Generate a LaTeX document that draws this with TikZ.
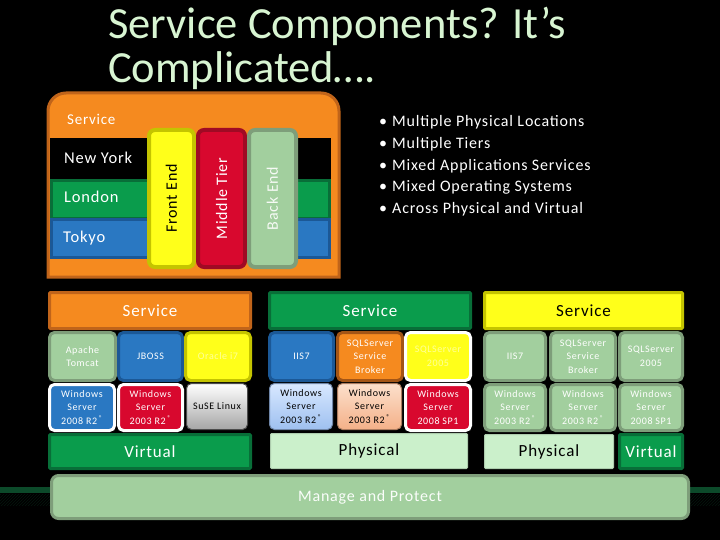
\documentclass[tikz,border=0pt]{standalone}
\usepackage{fontspec}
\setmainfont{Carlito}
\newfontfamily\spfont{Carlito}[LetterSpace=5]
\newfontfamily\smfont{Carlito}[LetterSpace=6]
\usetikzlibrary{patterns}
\definecolor{orF}{HTML}{F58A1F}\definecolor{orD}{HTML}{C0641A}
\definecolor{grF}{HTML}{0A9C4C}\definecolor{grD}{HTML}{086E38}
\definecolor{blF}{HTML}{2A78C2}\definecolor{blD}{HTML}{1B5896}
\definecolor{yeF}{HTML}{FFFF1A}\definecolor{yeD}{HTML}{C4C400}
\definecolor{reF}{HTML}{D8082E}\definecolor{reD}{HTML}{A00A24}
\definecolor{lgF}{HTML}{A2CF9E}\definecolor{lgD}{HTML}{7E9E7A}
\definecolor{pgF}{HTML}{CBF0CB}
\definecolor{lbT}{HTML}{D8E8FF}\definecolor{lbB}{HTML}{9EC0F0}
\definecolor{peT}{HTML}{FCE0CC}\definecolor{peB}{HTML}{F4B088}
\definecolor{titleC}{HTML}{D8F5D2}
\definecolor{paleY}{HTML}{FFFF9A}
\definecolor{bandC}{HTML}{0C4A2A}
\newcommand\bbox[7]{\node[#2,anchor=north west,minimum width={#5-#3},minimum height={#6-#4}] (#1) at (#3,#4) {#7};}
\tikzset{
 base/.style={rounded corners=5pt,line width=3pt,inner sep=0pt,align=center,font=\smfont\fontsize{10}{13.5}\selectfont},
 orb/.style={base,fill=orF,draw=orD,text=white},
 grb/.style={base,fill=grF,draw=grD,text=white},
 blb/.style={base,fill=blF,draw=blD,text=white},
 yeb/.style={base,fill=yeF,draw=yeD,text=paleY},
 lgb/.style={base,fill=lgF,draw=lgD,text=white},
 blw/.style={base,fill=blF,draw=white,text=white},
 rew/.style={base,fill=reF,draw=white,text=white},
 yew/.style={base,fill=yeF,draw=white,text=paleY},
 lbg/.style={base,top color=lbT,bottom color=lbB,draw=lbB!70!black,line width=1pt,text=black},
 peg/.style={base,top color=peT,bottom color=peB,draw=peB!70!black,line width=1pt,text=black},
 gyg/.style={base,top color=white,bottom color=gray!70,draw=black!70,line width=1pt,text=black},
 big/.style={font=\spfont\fontsize{17}{20}\selectfont},
 bar/.style={rounded corners=1pt,line width=3pt,inner sep=0pt,big},
 tier/.style={rounded corners=6pt,line width=4pt,inner sep=0pt},
 strip/.style={line width=3pt,inner sep=0pt},
 lbl/.style={anchor=base west,inner sep=0pt,font=\spfont\fontsize{16.5}{20}\selectfont,text=white},
 bul/.style={anchor=base west,inner sep=0pt,font=\spfont\fontsize{16}{20}\selectfont,text=white},
 ttl/.style={anchor=base west,inner sep=0pt,text=titleC,font=\fontsize{44.5}{44}\selectfont},
}
\begin{document}
\begin{tikzpicture}[x=1pt,y=-1pt]
\fill[black] (0,0) rectangle (720,540);
\useasboundingbox (0,0) rectangle (720,540);
% background band
\fill[bandC] (0,487) rectangle (720,493);
\fill[pattern=north east lines,pattern color=black!70!bandC] (0,494) rectangle (720,505);
% title
\node[ttl] (t1) at (108,39) {Service Components? It’s};
\node[ttl] (t2) at (108,83) {Complicated….};
% top orange service
\draw[orD,fill=orF,line width=3pt] (48,277) -- (48,200) [rounded corners=18pt] -- (48,93) -- (339,93) -- (339,200) [sharp corners] -- (339,277) -- cycle;
\node[lbl,text=white,font=\spfont\fontsize{15}{18}\selectfont] (svc) at (67,125) {Service};
\bbox{ny}{strip,fill=black,draw=black}{50}{138}{328}{178}{}
\bbox{ldn}{strip,fill=grF,draw=grD}{50}{179}{328}{217}{}
\bbox{tky}{strip,fill=blF,draw=blD}{50}{218}{328}{256}{}
\node[lbl] (nyt) at (64,164) {New York};
\node[lbl] (ldt) at (64,203) {London};
\node[lbl] (tkt) at (63,242) {Tokyo};
\bbox{fe}{tier,fill=yeF,draw=yeD}{147}{128}{192}{265}{}
\bbox{mt}{tier,fill=reF,draw=reD}{196}{128}{243}{265}{}
\bbox{be}{tier,fill=lgF,draw=lgD}{247}{128}{294}{265}{}
\node[rotate=90,font=\spfont\fontsize{16}{20}\selectfont,text=black] at (fe) {Front End};
\node[rotate=90,font=\spfont\fontsize{16}{20}\selectfont,text=white] at (mt) {Middle Tier};
\node[rotate=90,font=\spfont\fontsize{16}{20}\selectfont,text=white!90!lgF] at (be) {Back End};
% bullets
\foreach \t [count=\i] in {Multiple Physical Locations,Multiple Tiers,Mixed Applications Services,Mixed Operating Systems,Across Physical and Virtual}{
  \node[bul] (b\i) at (392,{127+21.6*(\i-1)}) {\t};
  \node[bul] (d\i) at (379,{127+21.6*(\i-1)}) {•};
}
% left group
\bbox{s1}{bar,fill=orF,draw=orD,text=white}{48}{291}{249}{327}{Service}
\bbox{a1}{lgb}{48}{331}{114}{379}{Apache\\Tomcat}
\bbox{a2}{blb}{117}{331}{181}{379}{JBOSS}
\bbox{a3}{yeb}{184}{331}{249}{379}{Oracle i7}
\bbox{a4}{blw}{48}{383}{113}{429}{Windows\\Server\\2008 R2\,\textsuperscript{®}}
\bbox{a5}{rew}{117}{383}{181}{429}{Windows\\Server\\2003 R2\,\textsuperscript{®}}
\bbox{a6}{gyg}{186}{383}{247}{429}{SuSE Linux}
\bbox{v1}{bar,fill=grF,draw=grD,text=white}{48}{433}{249}{467}{Virtual}
% middle group
\bbox{s2}{bar,fill=grF,draw=grD,text=white}{268}{291}{469}{327}{Service}
\bbox{m1}{blb}{268}{331}{332}{379}{IIS7}
\bbox{m2}{orb,draw=orD!85!black}{336}{331}{401}{379}{SQLServer\\Service\\Broker}
\bbox{m3}{yew}{404}{331}{469}{379}{SQLServer\\2005}
\bbox{m4}{lbg}{269}{383}{332}{429}{Windows\\Server\\2003 R2\,\textsuperscript{®}}
\bbox{m5}{peg}{337}{383}{401}{429}{Windows\\Server\\2003 R2\,\textsuperscript{®}}
\bbox{m6}{rew}{404}{383}{469}{429}{Windows\\Server\\2008 SP1}
\bbox{p1}{bar,fill=pgF,draw=pgF!85!black,line width=1pt,text=black}{270}{433}{467}{468}{Physical}
% right group
\bbox{s3}{bar,fill=yeF,draw=yeD,text=black}{483}{291}{681}{327}{Service}
\bbox{r1}{lgb}{483}{331}{544}{379}{IIS7}
\bbox{r2}{lgb}{549}{331}{614}{379}{SQLServer\\Service\\Broker}
\bbox{r3}{lgb}{618}{331}{681}{379}{SQLServer\\2005}
\bbox{r4}{lgb}{483}{383}{544}{429}{Windows\\Server\\2003 R2\,\textsuperscript{®}}
\bbox{r5}{lgb}{549}{383}{614}{429}{Windows\\Server\\2003 R2\,\textsuperscript{®}}
\bbox{r6}{lgb}{618}{383}{681}{429}{Windows\\Server\\2008 SP1}
\bbox{p2}{bar,fill=pgF,draw=pgF!85!black,line width=1pt,text=black}{484}{434}{613}{468}{Physical}
\bbox{v2}{bar,fill=grF,draw=grD,text=white}{618}{433}{681}{467}{Virtual}
% manage
\bbox{mp}{rounded corners=7pt,line width=3pt,fill=lgF,draw=lgD,text=white!95!lgF,font=\spfont\fontsize{16}{20}\selectfont}{50}{474}{687}{517}{Manage and Protect}
\end{tikzpicture}
\end{document}
